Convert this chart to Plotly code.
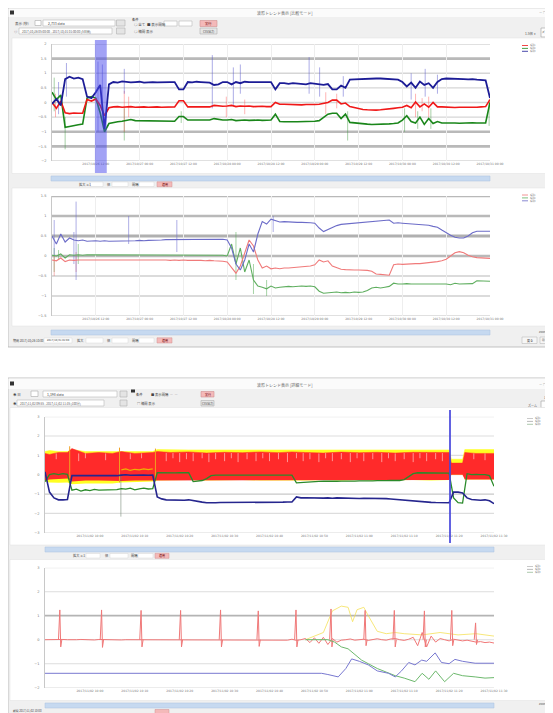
import plotly.graph_objects as go

# target picture is 553x713; the page body adds an 8px margin, so the figure is 545x705
PAGE_W, PAGE_H = 553, 713
OFF = 8
W, H = PAGE_W - OFF, PAGE_H - OFF

# ---------------- data: chart 1 (upper window, top chart) ----------------
x_units = list(range(101))
blue1 = [-0.05, 0.12, -0.1,
         0.8, 0.88, 0.82, 0.85, 0.8,
         0.2, 0.15,
         0.35, 0.6, -0.9,
         0.62, 0.7, 0.68, 0.72, 0.7, 0.69, 0.7, 0.71, 0.68, 0.7, 0.7, 0.69, 0.7, 0.7, 0.7, 0.7,
         0.45, 0.45,
         0.7, 0.69, 0.71, 0.7, 0.7, 0.68,
         0.6, 0.62,
         0.7, 0.7, 0.62, 0.7, 0.66, 0.71, 0.7, 0.7, 0.69, 0.7, 0.7, 0.7,
         0.45,
         0.66, 0.66, 0.64, 0.66, 0.65,
         0.64, 0.62, 0.66, 0.64, 0.64, 0.6, 0.63,
         0.45, 0.45,
         0.58, 0.5,
         0.78, 0.79, 0.8, 0.8, 0.81, 0.81, 0.82, 0.82, 0.81, 0.8, 0.79, 0.78,
         0.7, 0.55, 0.68, 0.5, 0.72, 0.6, 0.66, 0.5, 0.7,
         0.8, 0.82, 0.82, 0.81, 0.8, 0.8, 0.79, 0.8, 0.78, 0.77, 0.76,
         0.15]
red1 = [0.0, -0.2, 0.05,
        -0.35, -0.38, -0.36, -0.37, -0.37,
        0.1, 0.05,
        0.12, -0.1, -0.45,
        -0.18, -0.15, -0.14, -0.16, -0.15, -0.14, -0.16, -0.15, -0.15, -0.16, -0.15, -0.15, -0.16, -0.15, -0.15, -0.15,
        0.06, 0.06,
        -0.15, -0.15, -0.14, -0.16, -0.15, -0.15,
        -0.1, -0.12,
        -0.13, -0.12, -0.1, -0.14, -0.12, -0.13, -0.12, -0.14, -0.13, -0.13, -0.14, -0.14,
        0.0,
        -0.06, -0.06, -0.07, -0.07, -0.08,
        -0.08, -0.07, -0.08, -0.07, -0.06, -0.02, 0.0,
        0.08, 0.08,
        -0.05, -0.02,
        -0.14, -0.18, -0.21, -0.24, -0.25, -0.26, -0.26, -0.25, -0.24, -0.22, -0.2, -0.18,
        -0.16, -0.1, -0.18, 0.02, -0.15, -0.05, -0.16, 0.0, -0.15,
        -0.15, -0.16, -0.16, -0.17, -0.16, -0.16, -0.18, -0.17, -0.16, -0.15, -0.14,
        0.1]
green1 = [0.35, 0.1, 0.25,
          -0.85, -0.82, -0.78, -0.76, -0.74,
          0.15, 0.2,
          0.15, -0.35, -1.0,
          -0.72, -0.68, -0.66, -0.64, -0.6, -0.58, -0.62, -0.62, -0.63, -0.63, -0.64, -0.64, -0.63, -0.64, -0.64, -0.64,
          -0.48, -0.48,
          -0.6, -0.6, -0.61, -0.6, -0.6, -0.6,
          -0.55, -0.58,
          -0.6, -0.6, -0.58, -0.62, -0.6, -0.6, -0.61, -0.6, -0.6, -0.61, -0.6, -0.6,
          -0.4,
          -0.65, -0.66, -0.67, -0.66, -0.66,
          -0.66, -0.65, -0.66, -0.64, -0.62, -0.5, -0.4,
          -0.37, -0.37,
          -0.55, -0.4,
          -0.68, -0.7, -0.72, -0.73, -0.74, -0.75, -0.75, -0.75, -0.74, -0.73, -0.72, -0.7,
          -0.6, -0.45, -0.65, -0.7, -0.5, -0.75, -0.55, -0.72, -0.65,
          -0.7, -0.7, -0.69, -0.7, -0.71, -0.7, -0.7, -0.69, -0.7, -0.7, -0.7,
          0.0]
# spikes (x, low, high)
blue1_spk = [(1.5, -0.4, 0.7), (3.3, 0.2, 1.35), (10.5, -1.0, 1.4), (11.5, 0.0, 1.3), (16.5, 0.3, 1.15),
             (36.6, -0.2, 1.62), (41.4, -0.1, 1.2), (43.0, 0.3, 1.3), (58.7, 0.3, 1.55), (61.1, 0.2, 1.2),
             (66.5, 0.2, 0.9), (82.0, 0.1, 1.0), (85.2, 0.2, 1.15), (88.0, 0.3, 0.95)]
red1_spk = [(0.8, -0.5, 0.3), (16.5, -1.0, 0.4), (17.5, -0.5, 0.2), (39.8, -0.5, 0.2), (44.0, -0.4, 0.1),
            (62.5, -0.4, 0.35), (65.0, -0.2, 0.3), (83.0, -0.5, 0.3), (84.5, -0.3, 0.15), (86.0, -0.5, 0.2)]
green1_spk = [(0.5, -0.3, 0.85), (3.0, -1.6, -0.5), (16.5, -1.3, -0.2), (29.5, -0.7, -0.3), (67.5, -1.3, -0.3),
              (80.5, -1.0, -0.2), (83.5, -0.9, -0.3), (86.5, -0.9, -0.2), (99.8, -0.8, 0.1)]

# ---------------- data: chart 2 ----------------
blue2 = [0.5, 0.3, 0.55, 0.35, 0.45,
         0.4, 0.38, 0.4, 0.37, 0.38, 0.38, 0.37, 0.38,
         0.37, 0.37, 0.38, 0.37, 0.38, 0.38, 0.38, 0.39, 0.38, 0.39, 0.39, 0.4, 0.4, 0.41, 0.41, 0.42,
         0.42, 0.41, 0.42, 0.42, 0.42, 0.42, 0.42, 0.42, 0.42, 0.42, 0.42, 0.4,
         0.2, -0.2, -0.35, -0.1, 0.3, 0.1, 0.55,
         0.86, 0.8, 0.92, 0.88,
         0.85, 0.86, 0.85, 0.85, 0.84, 0.84, 0.84, 0.83, 0.82,
         0.7, 0.61, 0.66,
         0.72, 0.76, 0.79, 0.8, 0.81, 0.82, 0.83, 0.84, 0.85, 0.86, 0.87, 0.88, 0.89, 0.9,
         0.82, 0.83, 0.82, 0.81, 0.8, 0.8, 0.79, 0.78, 0.77, 0.74, 0.72,
         0.65, 0.58, 0.52, 0.47, 0.45, 0.45, 0.5,
         0.58, 0.62, 0.62, 0.62, 0.62]
red2 = [-0.1, -0.12, -0.05, -0.14, -0.1,
        -0.11, -0.1, -0.1, -0.09, -0.1, -0.1, -0.09, -0.1,
        -0.1, -0.1, -0.09, -0.1, -0.09, -0.1, -0.1, -0.1, -0.09, -0.1, -0.1, -0.09, -0.1, -0.1, -0.11, -0.1,
        -0.11, -0.1, -0.11, -0.11, -0.1, -0.11, -0.12, -0.11, -0.12, -0.12, -0.13, -0.15,
        -0.3, -0.43, -0.25, 0.1, 0.4, 0.25, -0.1,
        -0.3, -0.25, -0.32, -0.3,
        -0.32, -0.3, -0.3, -0.29, -0.28, -0.27, -0.26, -0.25, -0.22,
        -0.1, -0.15, -0.12,
        -0.25, -0.3, -0.33, -0.34, -0.35, -0.35, -0.35, -0.35, -0.36, -0.38, -0.45, -0.46, -0.47, -0.48,
        -0.22, -0.2, -0.21, -0.2, -0.2, -0.19, -0.19, -0.18, -0.17, -0.16, -0.14,
        -0.12, -0.08, 0.0, 0.08, 0.11, 0.08, 0.02,
        -0.02, -0.04, -0.05, -0.06, -0.06]
green2 = [0.02, 0.0, 0.05, -0.05, 0.03,
          0.02, 0.03, 0.02, 0.03, 0.03, 0.02, 0.03, 0.03,
          0.03, 0.02, 0.03, 0.03, 0.03, 0.02, 0.03, 0.03, 0.03, 0.03, 0.02, 0.03, 0.03, 0.03, 0.03, 0.03,
          0.03, 0.03, 0.03, 0.03, 0.03, 0.03, 0.02, 0.02, 0.02, 0.02, 0.02, 0.0,
          0.3, -0.2, 0.2, -0.4, -0.1, -0.6, -0.75,
          -0.78, -0.82, -0.75, -0.8,
          -0.78, -0.77, -0.76, -0.77, -0.76, -0.75, -0.76, -0.75, -0.77,
          -0.88, -0.93, -0.92,
          -0.92, -0.9, -0.92, -0.91, -0.92, -0.9, -0.91, -0.9, -0.86, -0.8, -0.78, -0.8, -0.78, -0.76,
          -0.68, -0.7, -0.7, -0.69, -0.7, -0.7, -0.71, -0.7, -0.7, -0.71, -0.7,
          -0.7, -0.7, -0.72, -0.68, -0.7, -0.7, -0.7,
          -0.69, -0.62, -0.62, -0.63, -0.63]
blue2_spk = [(0.5, 0.0, 0.9), (5.0, -0.2, 0.6), (5.5, -0.6, 1.36), (17.5, 0.3, 1.0), (28.5, 0.1, 0.9), (50.5, 0.6, 1.0)]
red2_spk = [(0.5, -0.5, 0.0), (5.5, -0.4, 0.1)]
green2_spk = [(0.5, -0.4, 0.2), (1.5, -0.1, 0.15), (6.0, -0.2, 0.3), (42.0, -0.6, 0.6), (46.0, -0.95, -0.2), (49.0, -1.0, -0.6)]

# ---------------- data: chart 3 (lower window, top chart) ----------------
band3_x = [0, 1, 3, 5, 6, 9, 12, 15, 17, 20, 24, 25, 28, 32, 36, 40, 44, 48, 52, 55, 58, 62, 66, 70, 74, 78,
           82, 86, 90, 90.5, 93, 93.5, 96, 100]
red3_hi = [1.1, 1.05, 1.15, 1.15, 1.35, 1.1, 1.15, 1.1, 1.2, 1.1, 1.15, 1.2, 1.15, 1.18, 1.12, 1.16, 1.14, 1.18,
           1.14, 1.18, 1.15, 1.12, 1.17, 1.14, 1.16, 1.12, 1.16, 1.14, 1.15, 0.6, 0.6, 1.15, 1.1, 1.1]
red3_lo = [-0.3, -0.25, -0.22, -0.2, -0.35, -0.3, -0.3, -0.32, -0.32, -0.3, -0.3, -0.28, -0.27, -0.27, -0.3, -0.27,
           -0.28, -0.3, -0.28, -0.3, -0.3, -0.28, -0.3, -0.28, -0.3, -0.28, -0.28, -0.3, -0.28, 0.0, 0.0, -0.25,
           -0.25, -0.25]
yel3_hi = [1.2, 1.25, 1.2, 1.2, 1.3, 1.2, 1.2, 1.2, 1.2, 1.2, 1.2, 1.3, 1.28, 1.28, 1.28, 1.28, 1.28, 1.28, 1.28,
           1.28, 1.28, 1.28, 1.28, 1.28, 1.28, 1.28, 1.28, 1.28, 1.28, 0.8, 0.8, 1.3, 1.3, 1.3]
yel3_lo = [-0.35, -0.4, -0.42, -0.4, -0.5, -0.45, -0.45, -0.45, -0.4, -0.38, -0.35, -0.3, -0.28, -0.28, -0.3, -0.28,
           -0.28, -0.3, -0.28, -0.3, -0.3, -0.28, -0.3, -0.28, -0.3, -0.28, -0.28, -0.3, -0.28, 0.0, 0.0, -0.25,
           -0.25, -0.25]
# light gaps between the oscillation peaks at the top of the red band (x, low, high)
red3_gaps = [(2.5, 0.8, 1.1), (7.5, 0.7, 1.1), (9.0, 0.85, 1.1), (13.5, 0.75, 1.1), (19.0, 0.8, 1.1),
             (21.5, 0.85, 1.1), (27.0, 0.7, 1.12), (28.5, 0.85, 1.12), (30.0, 0.65, 1.12), (31.5, 0.8, 1.12),
             (33.0, 0.7, 1.12), (35.0, 0.85, 1.12), (36.5, 0.65, 1.1), (38.0, 0.8, 1.12), (40.0, 0.7, 1.12),
             (41.5, 0.85, 1.12), (43.0, 0.65, 1.12), (45.0, 0.8, 1.12), (47.0, 0.7, 1.12), (48.5, 0.85, 1.12),
             (50.0, 0.7, 1.12), (52.0, 0.8, 1.12), (54.0, 0.65, 1.12), (56.0, 0.85, 1.12), (57.5, 0.7, 1.12),
             (59.0, 0.8, 1.12), (61.0, 0.65, 1.1), (62.5, 0.85, 1.12), (64.0, 0.7, 1.12), (66.0, 0.8, 1.12),
             (68.0, 0.65, 1.12), (69.5, 0.85, 1.12), (71.0, 0.7, 1.12), (73.0, 0.8, 1.12), (75.0, 0.65, 1.12),
             (76.5, 0.85, 1.12), (78.0, 0.7, 1.1), (80.0, 0.8, 1.12), (82.0, 0.65, 1.12), (83.5, 0.85, 1.12),
             (85.0, 0.7, 1.12), (87.0, 0.8, 1.12), (88.5, 0.7, 1.12), (95.5, 0.8, 1.1), (98.0, 0.75, 1.1)]
navy3 = [0.15, -0.9, -1.2, -1.3, -1.3, -1.28,
         -0.05, -0.05, -0.08, -0.06, -0.05, -0.07, -0.06, -0.05, -0.04, -0.05, -0.05,
         -0.02, 0.0, -0.03, -0.02, 0.0, -0.02, -0.03, -0.02,
         -1.15, -1.25, -1.3, -1.31, -1.3, -1.31, -1.32, -1.3,
         -1.35, -1.38, -1.42, -1.45, -1.46, -1.45, -1.44, -1.44, -1.45, -1.44, -1.43, -1.44, -1.43, -1.44,
         -1.44, -1.43, -1.43, -1.42, -1.43, -1.42, -1.42, -1.41, -1.41,
         -1.15, -1.2, -1.19, -1.2, -1.2, -1.19, -1.21, -1.2, -1.22, -1.2, -1.21, -1.22, -1.22, -1.21, -1.23,
         -1.22, -1.22, -1.23, -1.22, -1.24, -1.24, -1.26, -1.28, -1.3, -1.32, -1.34, -1.36, -1.38,
         -1.42, -1.42, -1.43, -1.44, -1.44, -1.45, -1.45,
         -0.9, -0.9, -0.95,
         -1.2, -1.28,
         -1.3, -1.32, -1.3, -1.35, -1.5]
green3 = [-0.36,
          0.0, 0.05, 0.0, 0.05, 0.02,
          -0.8, -0.75, -0.85, -0.78, -0.82, -0.76, -0.8, -0.79, -0.78, -0.8, -0.77,
          -0.72, -0.75, -0.7, -0.78, -0.73, -0.7, -0.74, -0.72,
          0.1, 0.09, 0.09, 0.1, 0.09, 0.1, 0.09, 0.1,
          -0.36, -0.34, -0.3, -0.2, -0.05, -0.02,
          -0.02, -0.01, -0.02, -0.02, -0.01, -0.02, -0.02, -0.02, -0.01, -0.02, -0.02, -0.02, -0.01, -0.02,
          -0.02, -0.02, -0.02,
          -0.42, -0.4, -0.38, -0.36, -0.35, -0.35, -0.34, -0.35, -0.34, -0.34, -0.33, -0.34, -0.33, -0.33,
          -0.32, -0.33, -0.32, -0.32, -0.31, -0.32, -0.31, -0.3, -0.3, -0.3, -0.25, -0.1, 0.05, 0.1,
          0.1, 0.1, 0.11, 0.1, 0.1, 0.1, 0.08,
          -1.2, -1.45, -1.47,
          0.05, 0.0,
          0.02, 0.0, 0.0, -0.05, -0.6]
orange3_x = [17, 18, 19, 20, 21, 22, 23, 24]
orange3 = [0.25, 0.3, 0.22, 0.28, 0.25, 0.3, 0.26, 0.3]
orange3_spk = [(5.5, -0.2, 1.47), (16.6, -0.4, 1.4), (24.6, -0.3, 1.35)]
grey3_spk = [(16.9, -2.17, 0.0)]
cursor3_x = 90.2

# ---------------- data: chart 4 ----------------
red4 = [0.0, 0.01, -0.01, 0.0, 0.01, 0.0, -0.01, 0.0, 0.01, 0.0, 0.0, -0.01, 0.01, 0.0, 0.0, 0.01, 0.0, -0.01,
        0.0, 0.0, 0.01, 0.0, -0.01, 0.0, 0.0, 0.01, 0.0, 0.0, -0.01, 0.0, 0.01, 0.0, 0.0, -0.01, 0.0, 0.01, 0.0,
        0.0, -0.01, 0.0, 0.0, 0.01, 0.0, -0.01, 0.0, 0.0, 0.01, 0.0, 0.0, -0.01, 0.0, 0.01, 0.0, 0.0, -0.02, 0.02,
        -0.03, 0.0,
        0.05, -0.12, 0.08, -0.15, 0.1, -0.2, 0.05, -0.1,
        -0.02, 0.0, 0.03, -0.02, 0.0, 0.02, -0.03, 0.0, 0.04, 0.0, -0.02, 0.03, 0.05, 0.0, -0.03, 0.02,
        0.1, -0.25, 0.3, -0.3, 0.15, -0.1, 0.05,
        0.0, -0.05, 0.02, -0.03, -0.05, -0.02, -0.06, -0.1, -0.08, -0.12, -0.1, -0.14]
red4_beat_x = [3.3, 12.6, 21.4, 30.2, 39.1, 47.5, 55.9, 63.7, 71.3, 77.8, 84.5, 90.6, 95.9]
red4_beat_hi = [1.24, 1.24, 1.22, 1.22, 1.24, 1.2, 1.24, 1.28, 1.22, 1.22, 1.2, 1.22, 0.7]
red4_beat_lo = [-0.3, -0.32, -0.3, -0.3, -0.3, -0.28, -0.3, -0.3, -0.25, -0.3, -0.3, -0.25, -0.2]
blue4_x = [0, 61.6, 63, 65.3, 67, 68.3, 70, 72, 74, 76.5, 78, 79.4, 81, 82.4, 83.9, 85, 86.9, 88.3, 90, 91.3, 93,
           95.8, 100]
blue4 = [-1.4, -1.4, -1.45, -1.55, -1.2, -0.8, -0.9, -1.05, -1.3, -1.4, -1.55, -1.3, -0.95, -1.05, -0.85, -0.9,
         -0.55, -0.95, -1.0, -0.82, -0.9, -0.98, -0.98]
green4_x = [58, 63, 64.5, 66, 67.5, 69, 70.5, 72, 74, 76, 78, 80, 82.4, 84, 85.5, 87, 89, 91, 93, 95.8, 98, 100]
green4 = [0.0, 0.0, -0.1, -0.3, -0.38, -0.6, -0.85, -1.0, -1.2, -1.35, -1.5, -1.6, -1.75, -1.4, -1.65, -1.3, -1.75,
          -1.4, -1.5, -1.55, -1.6, -1.58]
yel4_x = [58, 62, 64, 66, 67.5, 68.5, 69.5, 71, 72, 74, 76, 78, 80, 84, 88, 92, 96, 100]
yel4 = [0.0, 0.3, 1.2, 1.4, 1.35, 0.75, 1.25, 1.35, 1.0, 0.35, 0.25, 0.3, 0.25, 0.2, 0.3, 0.2, 0.25, 0.15]

# tick labels
x_ticks = [10, 20, 30, 40, 50, 60, 70, 80, 90, 100]
x_labels_top = ["2017/10/26 12:00", "2017/10/27 00:00", "2017/10/27 12:00", "2017/10/28 00:00",
                "2017/10/28 12:00", "2017/10/29 00:00", "2017/10/29 12:00", "2017/10/30 00:00",
                "2017/10/30 12:00", "2017/10/31 00:00"]
x_labels_bot = ["2017/11/02 10:00", "2017/11/02 10:10", "2017/11/02 10:20", "2017/11/02 10:30",
                "2017/11/02 10:40", "2017/11/02 10:50", "2017/11/02 11:00", "2017/11/02 11:10",
                "2017/11/02 11:20", "2017/11/02 11:30"]
y1_ticks = [2, 1.5, 1, 0.5, 0, -0.5, -1, -1.5, -2]
y2_ticks = [1.5, 1, 0.5, 0, -0.5, -1, -1.5]
y3_ticks = [3, 2, 1, 0, -1, -2, -3]
y4_ticks = [3, 2, 1, 0, -1, -2]
series_names = ["系列1", "系列2", "系列3"]

# ---------------- helpers (page pixel -> paper) ----------------
def PX(x):
    return (x - OFF) / W

def PY(y):
    return 1 - (y - OFF) / H

fig = go.Figure()
shapes = []
annots = []

def rect(x0, y0, x1, y1, fill, line="rgba(0,0,0,0)", lw=0.6, layer="below"):
    shapes.append(dict(type="rect", xref="paper", yref="paper", x0=PX(x0), x1=PX(x1), y0=PY(y1), y1=PY(y0),
                       fillcolor=fill, line=dict(color=line, width=lw), layer=layer))

def pline(x0, y0, x1, y1, color, lw=1, layer="above"):
    shapes.append(dict(type="line", xref="paper", yref="paper", x0=PX(x0), x1=PX(x1), y0=PY(y0), y1=PY(y1),
                       line=dict(color=color, width=lw), layer=layer))

def text(x, y, s, size=4, color="#555", anchor="left", family="Noto Sans CJK JP"):
    annots.append(dict(x=PX(x), y=PY(y), xref="paper", yref="paper", text=s, showarrow=False,
                       xanchor=anchor, yanchor="middle", borderpad=0, align=anchor if anchor != "center" else "center",
                       font=dict(size=size, color=color, family=family)))

def spikes(spk):
    X, Y = [], []
    for x, lo, hi in spk:
        X += [x, x, None]
        Y += [lo, hi, None]
    return X, Y

# ---------------- window chrome ----------------
# window 1
rect(8, 8, 553, 347, "#f0f0f0", "#b4b4b4", 0.8)
rect(8.5, 8.5, 552.5, 17, "#fbfbfb")
rect(10, 10.5, 14, 14.5, "#333333")
text(285, 12.7, "波形トレンド表示 [比較モード]", 4, "#666", "center")
text(551, 12.7, "－ □ ×", 3.2, "#777", "right")
# toolbar row 1
text(14, 23, "表示 (秒)", 3.5, "#444")
rect(35, 20.5, 41, 25.5, "#ffffff", "#aaaaaa")
rect(43, 20, 115, 26, "#ffffff", "#b8b8b8")
text(47, 23, "2,733 data", 3.5, "#444")
rect(116.5, 20, 125, 26, "#e4e4e4", "#b0b0b0")
text(131, 19, "条件", 3.3, "#333")
text(133, 24.5, "○ 全て", 3.5, "#444")
text(146, 24.5, "■ 表示間隔", 3.5, "#444")
rect(164, 21, 177, 26, "#ffffff", "#b8b8b8")
rect(179, 21, 192, 26, "#ffffff", "#b8b8b8")
rect(200, 20.5, 217, 26.5, "#f4b9b9", "#d09090")
text(208.5, 23.5, "実行", 3.3, "#600", "center")
# toolbar row 2
text(13, 31, "◎", 3.5, "#444")
rect(19, 28, 112, 34, "#ffffff", "#b8b8b8")
text(21, 31, "2017/10/26 05:00:00 - 2017/10/31 01:00:00 (5日間)", 3, "#555")
rect(116.5, 28, 125, 34, "#e4e4e4", "#b0b0b0")
text(133, 31.5, "○ 補間 表示", 3.5, "#444")
rect(200, 28, 217, 34, "#e6e6e6", "#b0b0b0")
text(208.5, 31, "CSV出力", 3, "#444", "center")
text(537, 33, "1.5倍 ▾", 3.3, "#555", "right")
rect(541, 28, 552.5, 37, "#fdfdfd", "#a0a0a0")
text(546.8, 32.5, "ズーム", 2.8, "#333", "center")
# panels
rect(12, 38, 549, 173.5, "#ffffff", "#e0e0e0", 0.5)
rect(51, 176, 490, 181, "#c6d9f0", "#a9c1e3", 0.5)
text(78, 184.3, "拡大 ×1", 3.2, "#444")
rect(90, 182, 103, 186.5, "#ffffff", "#cfcfcf", 0.4)
text(106, 184.3, "倍", 3.2, "#444")
rect(112, 182, 128, 186.5, "#ffffff", "#cfcfcf", 0.4)
text(131, 184.3, "間隔", 3.2, "#444")
rect(139, 182, 154, 186.5, "#ffffff", "#cfcfcf", 0.4)
rect(157, 181.8, 172, 186.8, "#f4b9b9", "#d09090", 0.5)
text(164.5, 184.3, "適用", 3, "#600", "center")
rect(12, 188, 549, 326, "#ffffff", "#e0e0e0", 0.5)
rect(51, 330, 490, 335, "#c6d9f0", "#a9c1e3", 0.5)
text(550, 331.5, "zoom ▸", 3, "#555", "right")
text(12, 340.5, "期間 2017/10/26 10:00", 3, "#444")
rect(44, 338, 72, 343, "#ffffff", "#cfcfcf", 0.4)
text(46, 340.5, "2017/10/31 01:00", 2.8, "#444")
text(76, 340.5, "拡大", 3.2, "#444")
rect(86, 338, 103, 343, "#ffffff", "#cfcfcf", 0.4)
text(106, 340.5, "倍", 3.2, "#444")
rect(112, 338, 128, 343, "#ffffff", "#cfcfcf", 0.4)
text(131, 340.5, "間隔", 3.2, "#444")
rect(139, 338, 154, 343, "#ffffff", "#cfcfcf", 0.4)
rect(157, 337.8, 172, 343, "#f4b9b9", "#d09090", 0.5)
text(164.5, 340.5, "適用", 3, "#600", "center")
rect(522, 337, 537, 343.5, "#f6f6f6", "#b0b0b0", 0.5)
text(529.5, 340.3, "戻る", 3, "#444", "center")
rect(540, 337, 552.5, 343.5, "#f6f6f6", "#b0b0b0", 0.5)
text(546.3, 340.3, "閉じる", 2.6, "#444", "center")

# window 2
rect(8, 378, 553, 720, "#f0f0f0", "#b4b4b4", 0.8)
rect(8.5, 378.5, 552.5, 389, "#fbfbfb")
rect(10, 381.5, 14, 385.5, "#333333")
text(285, 385, "波形トレンド表示 [詳細モード]", 4, "#666", "center")
text(551, 384, "－ □ ×", 3.2, "#777", "right")
text(12, 394, "◉ 日", 3.5, "#444")
rect(31, 391, 38, 396.5, "#ffffff", "#aaaaaa")
rect(43, 391, 117, 397, "#ffffff", "#b8b8b8")
text(46, 394, "1,198 data", 3.5, "#444")
rect(120, 391, 127, 397, "#e4e4e4", "#b0b0b0")
rect(131, 389.5, 135, 392.5, "#333333")
text(135, 394.5, "条件", 3.3, "#333")
text(150, 394.5, "■ 表示間隔  ―  ―", 3.3, "#444")
rect(201, 391.5, 214, 397, "#f4b9b9", "#d09090")
text(207.5, 394.2, "実行", 3, "#600", "center")
text(12, 403, "◉", 3.5, "#444")
rect(17, 400, 104, 406, "#ffffff", "#b8b8b8")
text(19, 403, "2017/11/02 09:55 - 2017/11/02 11:35 (100分)", 3, "#555")
rect(120, 400, 127, 406, "#e4e4e4", "#b0b0b0")
text(136, 403.5, "□ 補間 表示", 3.3, "#444")
rect(201, 400.5, 214, 406, "#e6e6e6", "#b0b0b0")
text(207.5, 403.3, "CSV出力", 3, "#444", "center")
text(551.5, 397.5, "1.5倍", 3, "#555", "right")
text(538, 405, "ズーム", 3, "#555", "right")
rect(541, 401, 552.5, 408, "#fdfdfd", "#a0a0a0")
rect(10, 407.5, 549, 545, "#ffffff", "#e0e0e0", 0.5)
rect(45, 547, 494, 552, "#c6d9f0", "#a9c1e3", 0.5)
text(72, 555.5, "拡大 ×1", 3.2, "#444")
rect(86, 553.5, 100, 558, "#ffffff", "#cfcfcf", 0.4)
text(104, 555.5, "倍", 3.2, "#444")
rect(110, 553.5, 128, 558, "#ffffff", "#cfcfcf", 0.4)
text(130, 555.5, "間隔", 3.2, "#444")
rect(138, 553.5, 153, 558, "#ffffff", "#cfcfcf", 0.4)
rect(155, 553.3, 169, 558.3, "#f4b9b9", "#d09090", 0.5)
text(162, 555.7, "適用", 3, "#600", "center")
rect(10, 559.5, 549, 700.5, "#ffffff", "#e0e0e0", 0.5)
rect(45, 703, 494, 708, "#c6d9f0", "#a9c1e3", 0.5)
text(550, 704, "zoom ▸", 3, "#555", "right")
text(12, 710.5, "期間 2017/11/02 10:00", 2.8, "#444")
rect(155, 709.5, 169, 714, "#f4b9b9", "#d09090", 0.5)

# ---------------- axes ----------------
xd12 = [PX(52), PX(490)]
xd34 = [PX(45), PX(494)]
doms = {
    "1": (xd12, [PY(161), PY(44)], [-2, 2], y1_ticks, x_labels_top, True),
    "2": (xd12, [PY(316), PY(196)], [-1.5, 1.5], y2_ticks, x_labels_top, True),
    "3": (xd34, [PY(532.7), PY(416.7)], [-3, 3], y3_ticks, x_labels_bot, False),
    "4": (xd34, [PY(687.7), PY(567.7)], [-2, 3], y4_ticks, x_labels_bot, False),
}
layout_axes = {}
for k, (xd, yd, yr, yt, xl, vgrid) in doms.items():
    xa = "xaxis" if k == "1" else "xaxis" + k
    ya = "yaxis" if k == "1" else "yaxis" + k
    xref = "x" if k == "1" else "x" + k
    yref = "y" if k == "1" else "y" + k
    layout_axes[xa] = dict(domain=xd, anchor=yref, range=[0, 100], tickvals=x_ticks, ticktext=xl,
                           tickfont=dict(size=3, color="#777", family="DejaVu Sans"), showgrid=vgrid,
                           gridcolor="#eeeeee", gridwidth=0.8, zeroline=False, showline=False, ticks="",
                           fixedrange=True, automargin=False)
    layout_axes[ya] = dict(domain=yd, anchor=xref, range=yr, tickvals=yt,
                           tickfont=dict(size=3.5, color="#777", family="DejaVu Sans"), showgrid=False,
                           zeroline=False, showline=True, linecolor="#c8c8c8", linewidth=0.8, ticks="",
                           ticklabelstandoff=4, fixedrange=True, automargin=False)

def hgrid(k, vals, styles):
    xref = "x" if k == "1" else "x" + k
    yref = "y" if k == "1" else "y" + k
    for v, (c, w) in zip(vals, styles):
        shapes.append(dict(type="line", xref=xref, yref=yref, x0=0, x1=100, y0=v, y1=v,
                           line=dict(color=c, width=w), layer="below"))

TH = ("#b9b9b9", 2.6)
TN = ("#d6d6d6", 1.4)
hgrid("1", y1_ticks, [TN, TH, TN, TN, TN, TN, TH, TH, TN])
hgrid("2", y2_ticks, [TH, TH, ("#b0b0b0", 3), TH, ("#cfcfcf", 1.6), ("#cfcfcf", 1.6), TN])
hgrid("3", y3_ticks, [("#dddddd", 1.1)] * 3 + [("#e2e2e2", 1.1), ("#c8c8c8", 1.3), ("#dddddd", 1.1), ("#dddddd", 1.1)])
hgrid("4", y4_ticks, [("#dddddd", 1.1), ("#dddddd", 1.1), ("#b4b4b4", 1.8), ("#dddddd", 1.1), ("#dddddd", 1.1), ("#dddddd", 1.1)])

# ---------------- traces ----------------
def add(x, y, color, width, k, fill=None, opacity=1.0):
    xref = "x" if k == "1" else "x" + k
    yref = "y" if k == "1" else "y" + k
    fig.add_trace(go.Scatter(x=x, y=y, mode="lines", line=dict(color=color, width=width), xaxis=xref,
                             yaxis=yref, fill=fill, fillcolor=color if fill else None, opacity=opacity,
                             showlegend=False, hoverinfo="skip", connectgaps=False))

# chart 1
for spk, c in [(green1_spk, "rgba(60,150,60,0.45)"), (red1_spk, "rgba(255,90,90,0.45)"), (blue1_spk, "rgba(70,70,200,0.45)")]:
    sx, sy = spikes(spk)
    add(sx, sy, c, 1, "1")
add(x_units, green1, "#1a861a", 1.6, "1")
add(x_units, red1, "#f01818", 1.6, "1")
add(x_units, blue1, "#1c1c96", 1.8, "1")
# chart 2
for spk, c in [(green2_spk, "rgba(80,170,80,0.5)"), (red2_spk, "rgba(240,110,110,0.5)"), (blue2_spk, "rgba(110,110,210,0.55)")]:
    sx, sy = spikes(spk)
    add(sx, sy, c, 1, "2")
add(x_units, green2, "#5fae5f", 1.1, "2")
add(x_units, red2, "#f07a7a", 1.1, "2")
add(x_units, blue2, "#6c6cc8", 1.1, "2")
# chart 3
add(band3_x, yel3_lo, "rgba(0,0,0,0)", 0, "3")
add(band3_x, yel3_hi, "#ffff22", 0.5, "3", fill="tonexty")
add(band3_x, red3_lo, "rgba(0,0,0,0)", 0, "3")
add(band3_x, red3_hi, "#ff2a2a", 0.5, "3", fill="tonexty")
sx, sy = spikes(red3_gaps)
add(sx, sy, "rgba(255,215,215,0.9)", 0.7, "3")
add(orange3_x, orange3, "#f0b000", 1.2, "3")
sx, sy = spikes(orange3_spk)
add(sx, sy, "#f0a020", 1, "3")
sx, sy = spikes(grey3_spk)
add(sx, sy, "rgba(110,130,110,0.7)", 0.8, "3")
add(x_units, green3, "#2a8a2a", 1.3, "3")
add(x_units, navy3, "#26268e", 1.6, "3")
# chart 4
add(yel4_x, yel4, "rgba(245,225,90,0.8)", 1, "4")
add(x_units, red4, "#f07878", 1, "4")
bx, by = [], []
for x, hi, lo in zip(red4_beat_x, red4_beat_hi, red4_beat_lo):
    bx += [x - 0.3, x, x + 0.2, x + 0.45, None]
    by += [0, hi, lo, 0, None]
add(bx, by, "#f07878", 1, "4")
add(green4_x, green4, "#6cb86c", 1, "4")
add(blue4_x, blue4, "#7878d0", 1, "4")

# highlight band / cursor
shapes.append(dict(type="rect", xref="x", yref="paper", x0=9.8, x1=12.5, y0=PY(173), y1=PY(40),
                   fillcolor="rgba(70,70,235,0.5)", line=dict(width=0), layer="above"))
shapes.append(dict(type="line", xref="x3", yref="paper", x0=cursor3_x, x1=cursor3_x, y0=PY(543), y1=PY(410),
                   line=dict(color="rgba(70,70,220,0.85)", width=2), layer="above"))

# legends (one text block per legend)
def legend(x0, y0, colors, dy=2.9):
    for i, c in enumerate(colors):
        yy = y0 + i * dy
        pline(x0, yy, x0 + 6, yy, c, 0.8)
    text(x0 + 7, y0 + dy, "<br>".join(series_names), 2.2, "#777")

legend(522, 45.5, ["#f01818", "#1a861a", "#1c1c96"])
legend(522, 195, ["#f07a7a", "#5fae5f", "#6c6cc8"])
legend(527, 418.5, ["#bbbbbb", "#aaaaaa", "#99bb99"])
legend(527, 566.5, ["#bbbbbb", "#aaaaaa", "#99bb99"])

fig.update_layout(width=W, height=H, margin=dict(l=0, r=0, t=0, b=0, autoexpand=False),
                  paper_bgcolor="#ffffff", plot_bgcolor="rgba(0,0,0,0)", showlegend=False, shapes=shapes,
                  annotations=annots, font=dict(family="Noto Sans CJK JP"), **layout_axes)
fig.write_html("out.html", config={"displayModeBar": False})
